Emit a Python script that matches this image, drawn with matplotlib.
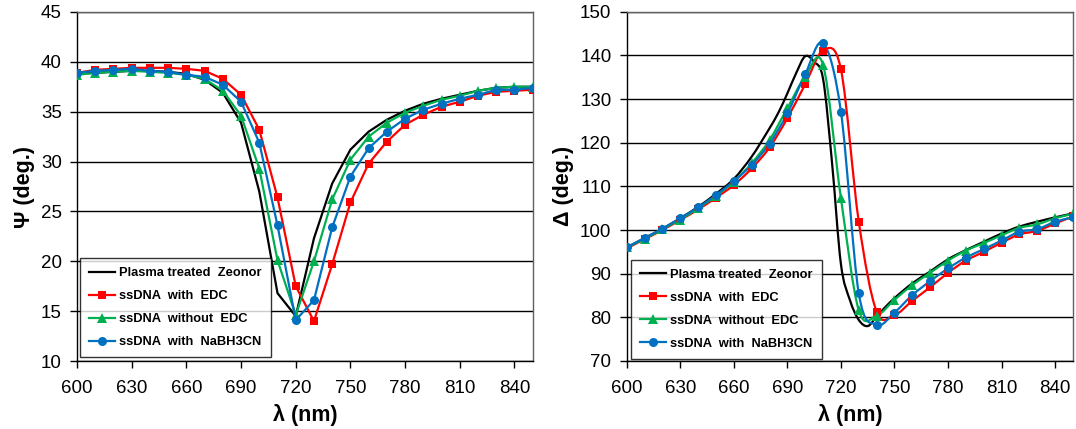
import numpy as np
import matplotlib
matplotlib.use("Agg")
import matplotlib.pyplot as plt
from matplotlib.path import Path
from matplotlib.patches import PathPatch
from matplotlib.lines import Line2D

plt.rcParams['font.family'] = ['Liberation Sans', 'DejaVu Sans']

wavelength = list(range(600, 851, 10))

labels = ["Plasma treated  Zeonor", "ssDNA  with  EDC",
          "ssDNA  without  EDC", "ssDNA  with  NaBH3CN"]

# Psi (deg.)
psi_plasma = [38.8, 38.9, 39.0, 39.1, 39.1, 39.0, 38.8, 38.2, 36.9, 33.9, 27.0, 16.8, 14.5,
              22.3, 27.8, 31.2, 33.0, 34.2, 35.1, 35.8, 36.3, 36.7, 37.1, 37.4, 37.5, 37.5]
psi_edc = [38.9, 39.2, 39.3, 39.4, 39.4, 39.4, 39.3, 39.1, 38.3, 36.7, 33.2, 26.4, 17.5,
           14.0, 19.7, 25.9, 29.8, 32.0, 33.7, 34.7, 35.5, 36.0, 36.6, 37.0, 37.1, 37.2]
psi_noedc = [38.7, 38.9, 39.0, 39.1, 39.0, 38.9, 38.7, 38.3, 37.1, 34.6, 29.3, 20.1, 14.6,
             20.0, 26.2, 30.2, 32.5, 33.9, 34.9, 35.6, 36.2, 36.6, 37.1, 37.4, 37.5, 37.5]
psi_nabh = [38.9, 39.1, 39.2, 39.3, 39.1, 39.0, 38.7, 38.5, 37.7, 36.0, 31.9, 23.6, 14.1,
            16.1, 23.4, 28.5, 31.35, 33.0, 34.3, 35.2, 35.8, 36.3, 36.7, 37.2, 37.2, 37.4]

# Delta (deg.) -- the plasma-treated reference curve is a finer-sampled line without markers
plasma_wavelength = [600, 610, 620, 630, 640, 650, 660, 670, 680, 685, 690, 695, 700, 705,
                     710, 715, 720, 725, 730, 735, 740, 745, 750, 760, 770, 780, 790, 800,
                     810, 820, 830, 840, 850]
delta_plasma = [96.0, 98.1, 100.3, 102.7, 105.3, 108.3, 111.7, 116.8, 123.3, 126.9, 131.3, 136.0,
                139.8, 138.5, 134.6, 115.5, 92.2, 84.0, 79.4, 78.0, 80.2, 82.4, 84.4, 87.8,
                90.5, 93.3, 95.4, 97.3, 99.2, 100.8, 101.9, 102.9, 103.8]
delta_edc = [95.8, 97.9, 100.0, 102.3, 104.7, 107.4, 110.3, 114.1, 118.9, 125.6, 133.4, 141.1,
             136.8, 101.9, 81.3, 80.5, 83.8, 86.9, 90.2, 93.0, 95.0, 97.1, 99.0, 99.8, 101.5, 103.1]
delta_noedc = [96.0, 98.0, 100.2, 102.4, 105.0, 107.8, 111.1, 115.3, 120.6, 127.9, 135.1, 137.8,
               107.3, 81.6, 80.4, 84.0, 87.4, 90.2, 93.0, 95.3, 97.0, 98.8, 100.5, 101.3, 102.7, 103.7]
delta_nabh = [96.0, 98.2, 100.3, 102.7, 105.2, 108.0, 111.2, 114.9, 119.8, 126.7, 135.7, 142.8,
              127.1, 85.5, 78.3, 81.1, 85.1, 88.3, 91.2, 93.7, 95.6, 97.6, 99.6, 100.2, 101.9, 102.9]

colors = ["black", "#FF0000", "#00B050", "#0070C0"]
markers = [None, "s", "^", "o"]
msizes = [0, 5.5, 6.5, 6.5]


def smooth_path(x, y):
    """Excel-like smoothed line as cubic Bezier path."""
    x = np.asarray(x, float)
    y = np.asarray(y, float)
    n = len(x)
    verts = [(x[0], y[0])]
    codes = [Path.MOVETO]
    for i in range(n - 1):
        im1 = max(i - 1, 0)
        ip2 = min(i + 2, n - 1)
        h = x[i + 1] - x[i]
        t1y = (y[i + 1] - y[im1]) / (x[i + 1] - x[im1]) * h
        t2y = (y[ip2] - y[i]) / (x[ip2] - x[i]) * h
        c1 = (x[i] + h / 3, y[i] + t1y / 3)
        c2 = (x[i + 1] - h / 3, y[i + 1] - t2y / 3)
        verts += [c1, c2, (x[i + 1], y[i + 1])]
        codes += [Path.CURVE4] * 3
    return Path(verts, codes)


fig = plt.figure(figsize=(10.76, 4.29), dpi=100)
ax1 = fig.add_axes([77 / 1076, 1 - 361 / 429, (532.7 - 77) / 1076, (361 - 12) / 429])
ax2 = fig.add_axes([626.7 / 1076, 1 - 361 / 429, (1073 - 626.7) / 1076, (361 - 11.7) / 429])

psi_series = [psi_plasma, psi_edc, psi_noedc, psi_nabh]
delta_series = [delta_plasma, delta_edc, delta_noedc, delta_nabh]
delta_x = [plasma_wavelength, wavelength, wavelength, wavelength]

# Left: straight lines
for ys, c, m, ms in zip(psi_series, colors, markers, msizes):
    ax1.plot(wavelength, ys, color=c, lw=1.6, marker=m, ms=ms, markeredgewidth=0, zorder=3)

# Right: smoothed lines
for xs, ys, c, m, ms in zip(delta_x, delta_series, colors, markers, msizes):
    ax2.add_patch(PathPatch(smooth_path(xs, ys), fill=False, edgecolor=c, lw=1.6, zorder=3))
    if m is not None:
        ax2.plot(xs, ys, ls="none", color=c, marker=m, ms=ms, markeredgewidth=0, zorder=4)

handles = [Line2D([], [], color=c, lw=1.6, marker=m, ms=ms, markeredgewidth=0)
           for c, m, ms in zip(colors, markers, msizes)]

for ax, ylim, yticks, ylabel, anchor in [
        (ax1, (10, 45), np.arange(10, 46, 5), "Ψ (deg.)", (0.006, 0.011)),
        (ax2, (70, 150), np.arange(70, 151, 10), "Δ (deg.)", (0.009, 0.006))]:
    ax.set_xlim(600, 850)
    ax.set_ylim(*ylim)
    ax.set_xticks(np.arange(600, 841, 30))
    ax.set_yticks(yticks)
    ax.grid(axis="y", color="black", lw=1.0, zorder=1)
    ax.set_axisbelow(True)
    for s in ["left", "bottom"]:
        ax.spines[s].set_color("black")
        ax.spines[s].set_linewidth(1.0)
    for s in ["top", "right"]:
        ax.spines[s].set_color("#606060")
        ax.spines[s].set_linewidth(1.0)
    ax.tick_params(axis="both", direction="out", length=5, width=1, labelsize=13.5)
    ax.tick_params(axis="y", pad=6)
    ax.tick_params(axis="x", pad=9)
    ax.set_xlabel("λ (nm)", fontsize=15.5, fontweight="bold", labelpad=5)
    ax.set_ylabel(ylabel, fontsize=15.5, fontweight="bold", labelpad=4)
    leg = ax.legend(handles, labels, loc="lower left", bbox_to_anchor=anchor,
                    frameon=True, fancybox=False, edgecolor="black",
                    borderaxespad=0, handlelength=2.0, handletextpad=0.35,
                    labelspacing=0.85, borderpad=0.7,
                    prop={"weight": "bold", "size": 9.3})
    leg.get_frame().set_linewidth(1.0)
    leg.set_zorder(5)

fig.savefig("out.png", dpi=100)
